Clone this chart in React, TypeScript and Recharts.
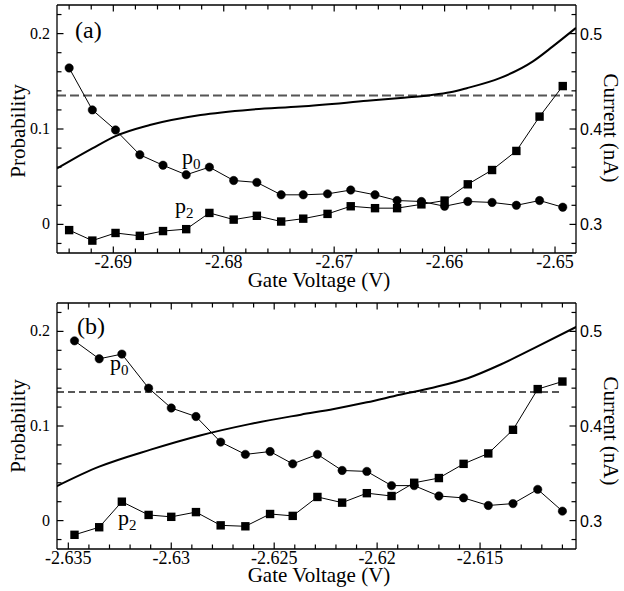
import React from "react";
import { ComposedChart, Line, XAxis, YAxis } from "recharts";

// panel (a)
const topVoltage = [
  -2.694, -2.6919, -2.6898, -2.6876, -2.6855, -2.6834, -2.6813, -2.6791,
  -2.677, -2.6748, -2.6728, -2.6706, -2.6685, -2.6663, -2.6643, -2.6621,
  -2.66, -2.6579, -2.6557, -2.6535, -2.6514, -2.6493,
];
const topP0 = [
  0.164, 0.12, 0.099, 0.073, 0.062, 0.052, 0.06, 0.046, 0.044, 0.031, 0.031,
  0.032, 0.036, 0.031, 0.025, 0.024, 0.019, 0.024, 0.023, 0.02, 0.025, 0.018,
];
const topP2 = [
  -0.006, -0.017, -0.009, -0.012, -0.007, -0.005, 0.012, 0.005, 0.009, 0.003,
  0.006, 0.011, 0.019, 0.017, 0.017, 0.021, 0.025, 0.042, 0.057, 0.077, 0.113,
  0.145,
];
const topCurrentV = [
  -2.6951, -2.6919, -2.6898, -2.6867, -2.6821, -2.6776, -2.6731, -2.667,
  -2.664, -2.6613, -2.6595, -2.658, -2.655, -2.652, -2.6502, -2.6481,
];
const topCurrent = [
  0.3586, 0.3797, 0.3926, 0.4042, 0.4147, 0.4203, 0.4235, 0.4295, 0.4325,
  0.4355, 0.4385, 0.4428, 0.4533, 0.4709, 0.4866, 0.506,
];
const topDash = 0.135;

// panel (b)
const bottomVoltage = [
  -2.6347, -2.6335, -2.6324, -2.6311, -2.63, -2.6288, -2.6276, -2.6264,
  -2.6252, -2.6241, -2.6229, -2.6217, -2.6205, -2.6193, -2.6182, -2.617,
  -2.6158, -2.6146, -2.6134, -2.6122, -2.611,
];
const bottomP0 = [
  0.19, 0.171, 0.176, 0.14, 0.119, 0.11, 0.083, 0.07, 0.073, 0.06, 0.07, 0.053,
  0.052, 0.037, 0.037, 0.026, 0.024, 0.016, 0.018, 0.033, 0.01,
];
const bottomP2 = [
  -0.015, -0.007, 0.02, 0.006, 0.004, 0.009, -0.005, -0.006, 0.007, 0.005,
  0.025, 0.019, 0.029, 0.026, 0.04, 0.045, 0.06, 0.071, 0.096, 0.139, 0.147,
];
const bottomCurrentV = [
  -2.6356, -2.6335, -2.631, -2.6286, -2.6262, -2.6237, -2.6221, -2.6205,
  -2.6189, -2.6173, -2.6156, -2.614, -2.6124, -2.6103,
];
const bottomCurrent = [
  0.336, 0.357, 0.375, 0.39, 0.402, 0.412, 0.418, 0.425, 0.433, 0.4405, 0.4505,
  0.465, 0.482, 0.505,
];
const bottomDash = 0.136;

// tick labels
const topXLabels = [-2.69, -2.68, -2.67, -2.66, -2.65];
const bottomXLabels = [-2.635, -2.63, -2.625, -2.62, -2.615];
const probLabels = [0, 0.1, 0.2];
const currentLabels = [0.3, 0.4, 0.5];

const SERIF = "'Liberation Serif', 'Times New Roman', serif";
const SANS = "'Liberation Sans', Arial, sans-serif";

function steps(start: number, stop: number, step: number) {
  const out: number[] = [];
  const n = Math.round((stop - start) / step);
  for (let i = 0; i <= n; i++) out.push(+(start + i * step).toFixed(4));
  return out;
}

const isMajor = (v: number, majors: number[]) =>
  majors.some((m) => Math.abs(m - v) < 1e-7);

const tickFor =
  (side: "top" | "bottom" | "left" | "right", majors: number[], label: boolean) =>
  (props: any) => {
    const { x, y, payload } = props;
    const v = payload.value;
    const major = isMajor(v, majors);
    const len = major ? 6.5 : 4.5;
    let line;
    let text = null;
    if (side === "bottom" || side === "top") {
      const d = side === "bottom" ? -1 : 1;
      line = <line x1={x} x2={x} y1={y} y2={y + d * len} stroke="#000" strokeWidth={1.2} />;
      if (label && major)
        text = (
          <text x={x} y={y + 15} textAnchor="middle" fontFamily={SERIF} fontSize={18} fill="#000">
            {String(v)}
          </text>
        );
    } else {
      const d = side === "left" ? 1 : -1;
      line = <line x1={x} x2={x + d * len} y1={y} y2={y} stroke="#000" strokeWidth={1.2} />;
      if (label && major)
        text =
          side === "left" ? (
            <text x={x - 7} y={y + 5} textAnchor="end" fontFamily={SERIF} fontSize={16} fill="#000">
              {String(v)}
            </text>
          ) : (
            <text x={x + 4} y={y + 6} textAnchor="start" fontFamily={SANS} fontSize={16} fill="#000">
              {String(v)}
            </text>
          );
    }
    return (
      <g>
        {line}
        {text}
      </g>
    );
  };

const squareDot = (props: any) => {
  const { cx, cy, index } = props;
  if (cx == null || cy == null) return <g key={index} />;
  return <rect key={index} x={cx - 4.2} y={cy - 4.2} width={8.4} height={8.4} fill="#000" />;
};

const frame = { stroke: "#000", strokeWidth: 1.3 };

type PanelProps = {
  top: number;
  height: number;
  topAxisHeight: number;
  xDomain: [number, number];
  xTicks: number[];
  xMajors: number[];
  voltage: number[];
  p0: number[];
  p2: number[];
  currentV: number[];
  current: number[];
  dash: { v: number; p: number }[];
  dashStyle: { stroke: string; width: number; array: string };
};

function Panel(props: PanelProps) {
  const p0Rows = props.voltage.map((v, i) => ({ v, p: props.p0[i] }));
  const p2Rows = props.voltage.map((v, i) => ({ v, p: props.p2[i] }));
  const curRows = props.currentV.map((v, i) => ({ v, c: props.current[i] }));
  const probTicks = steps(-0.02, 0.22, 0.02);
  const curTicks = steps(0.28, 0.52, 0.02);
  return (
    <div style={{ position: "absolute", left: 0, top: props.top }}>
      <ComposedChart width={624} height={props.height} margin={{ top: 0, right: 0, bottom: 0, left: 0 }}>
        <XAxis
          dataKey="v"
          type="number"
          domain={props.xDomain}
          allowDataOverflow
          ticks={props.xTicks}
          interval={0}
          height={42}
          tickSize={0}
          tickMargin={0}
          tickLine={false}
          axisLine={frame}
          tick={tickFor("bottom", props.xMajors, true)}
        />
        <XAxis
          xAxisId="top"
          orientation="top"
          dataKey="v"
          type="number"
          domain={props.xDomain}
          allowDataOverflow
          ticks={props.xTicks}
          interval={0}
          height={props.topAxisHeight}
          tickSize={0}
          tickMargin={0}
          tickLine={false}
          axisLine={frame}
          tick={tickFor("top", props.xMajors, false)}
        />
        <YAxis
          yAxisId="left"
          type="number"
          domain={[-0.03, 0.23]}
          allowDataOverflow
          ticks={probTicks}
          interval={0}
          width={57}
          tickSize={0}
          tickMargin={0}
          tickLine={false}
          axisLine={frame}
          tick={tickFor("left", probLabels, true)}
        />
        <YAxis
          yAxisId="right"
          orientation="right"
          type="number"
          domain={[0.27, 0.53]}
          allowDataOverflow
          ticks={curTicks}
          interval={0}
          width={48}
          tickSize={0}
          tickMargin={0}
          tickLine={false}
          axisLine={frame}
          tick={tickFor("right", currentLabels, true)}
        />
        <Line
          data={props.dash}
          dataKey="p"
          yAxisId="left"
          type="linear"
          stroke={props.dashStyle.stroke}
          strokeWidth={props.dashStyle.width}
          strokeDasharray={props.dashStyle.array}
          dot={false}
          activeDot={false}
          isAnimationActive={false}
        />
        <Line
          data={curRows}
          dataKey="c"
          yAxisId="right"
          type="monotone"
          stroke="#000"
          strokeWidth={2}
          dot={false}
          activeDot={false}
          isAnimationActive={false}
        />
        <Line
          data={p0Rows}
          dataKey="p"
          yAxisId="left"
          type="linear"
          stroke="#000"
          strokeWidth={1}
          dot={{ r: 4.2, fill: "#000", stroke: "#000", strokeWidth: 0.5 }}
          activeDot={false}
          isAnimationActive={false}
        />
        <Line
          data={p2Rows}
          dataKey="p"
          yAxisId="left"
          type="linear"
          stroke="#000"
          strokeWidth={1}
          dot={squareDot}
          activeDot={false}
          isAnimationActive={false}
        />
      </ComposedChart>
    </div>
  );
}

function PLabel({ x, y, sub }: { x: number; y: number; sub: string }) {
  return (
    <text x={x} y={y} fontFamily={SERIF} fontSize={22} fill="#000">
      p
      <tspan fontSize={15} dy={5}>
        {sub}
      </tspan>
    </text>
  );
}

export default function App() {
  const topDomain: [number, number] = [-2.6951, -2.6481];
  const bottomDomain: [number, number] = [-2.63555, -2.61034];
  return (
    <div style={{ position: "absolute", left: 0, top: 0, width: 624, height: 591, background: "#fff" }}>
      <Panel
        top={0}
        height={295}
        topAxisHeight={5}
        xDomain={topDomain}
        xTicks={steps(-2.694, -2.65, 0.002)}
        xMajors={topXLabels}
        voltage={topVoltage}
        p0={topP0}
        p2={topP2}
        currentV={topCurrentV}
        current={topCurrent}
        dash={[
          { v: topDomain[0], p: topDash },
          { v: topDomain[1], p: topDash },
        ]}
        dashStyle={{ stroke: "#555", width: 2, array: "9 4" }}
      />
      <Panel
        top={290}
        height={301}
        topAxisHeight={13}
        xDomain={bottomDomain}
        xTicks={steps(-2.635, -2.611, 0.001)}
        xMajors={bottomXLabels}
        voltage={bottomVoltage}
        p0={bottomP0}
        p2={bottomP2}
        currentV={bottomCurrentV}
        current={bottomCurrent}
        dash={[
          { v: bottomDomain[0], p: bottomDash },
          { v: bottomVoltage[bottomVoltage.length - 1], p: bottomDash },
        ]}
        dashStyle={{ stroke: "#222", width: 1.4, array: "7 4" }}
      />
      <svg
        width={624}
        height={591}
        style={{ position: "absolute", left: 0, top: 0, pointerEvents: "none" }}
      >
        <g fontFamily={SERIF} fill="#000">
          <text x={75} y={38} fontSize={24}>(a)</text>
          <text x={77} y={334} fontSize={24}>(b)</text>
          <text x={319} y={287} fontSize={21} textAnchor="middle">Gate Voltage (V)</text>
          <text x={319} y={582} fontSize={21} textAnchor="middle">Gate Voltage (V)</text>
          <text x={18} y={131} fontSize={21} textAnchor="middle" dominantBaseline="central" transform="rotate(-90 18 131)">
            Probability
          </text>
          <text x={18} y={426} fontSize={21} textAnchor="middle" dominantBaseline="central" transform="rotate(-90 18 426)">
            Probability
          </text>
          <text x={611} y={128} fontSize={21} textAnchor="middle" dominantBaseline="central" transform="rotate(90 611 128)">
            Current (nA)
          </text>
          <text x={611} y={431} fontSize={21} textAnchor="middle" dominantBaseline="central" transform="rotate(90 611 431)">
            Current (nA)
          </text>
        </g>
        <PLabel x={182} y={164} sub="0" />
        <PLabel x={175} y={213} sub="2" />
        <PLabel x={110} y={370} sub="0" />
        <PLabel x={118} y={525} sub="2" />
      </svg>
    </div>
  );
}
